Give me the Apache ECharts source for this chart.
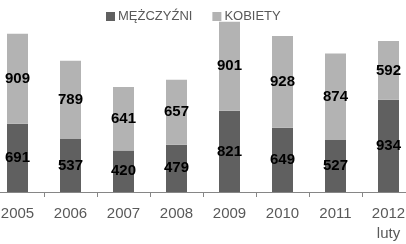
<!DOCTYPE html>
<html><head><meta charset="utf-8">
<script src="https://cdn.jsdelivr.net/npm/echarts@6/dist/echarts.min.js"></script>
<style>html,body{margin:0;padding:0;background:#fff;overflow:hidden;width:406px;height:244px}#c{width:424px;height:244px;margin-left:-9px}</style>
</head><body><div id="c"></div>
<script>
const categories = ['2005','2006','2007','2008','2009','2010','2011','2012\nluty'];
const men = [691,537,420,479,821,649,527,934];
const women = [909,789,641,657,901,928,874,592];
const seriesNames = ['MĘŻCZYŹNI','KOBIETY'];

const chart = echarts.init(document.getElementById('c'), null, {renderer:'canvas'});
const lbl = {show:true, position:'inside', color:'#000', fontFamily:'Liberation Sans', fontWeight:'bold', fontSize:15};
chart.setOption({
  animation:false,
  legend:{top:5, left:110, itemWidth:9, itemHeight:9, itemGap:20, icon:'rect',
    textStyle:{color:'#595959', fontFamily:'Liberation Sans', fontSize:13, padding:[0,0,0,-2]}},
  grid:{left:0, right:0, top:14, bottom:49, containLabel:false},
  xAxis:{type:'category', data:categories, boundaryGap:true,
    axisLine:{lineStyle:{color:'#868686'}},
    axisTick:{show:true, length:5, lineStyle:{color:'#868686'}},
    axisLabel:{color:'#595959', fontFamily:'Liberation Sans', fontSize:15, margin:12, lineHeight:20, interval:0}},
  yAxis:{type:'value', min:0, max:1800, show:false, splitLine:{show:false}},
  series:[
    {name:seriesNames[0], type:'bar', stack:'a', data:men, barWidth:21, itemStyle:{color:'#606060'}, label:lbl},
    {name:seriesNames[1], type:'bar', stack:'a', data:women, barWidth:21, itemStyle:{color:'#b3b3b3'}, label:lbl}
  ]
});
</script></body></html>
